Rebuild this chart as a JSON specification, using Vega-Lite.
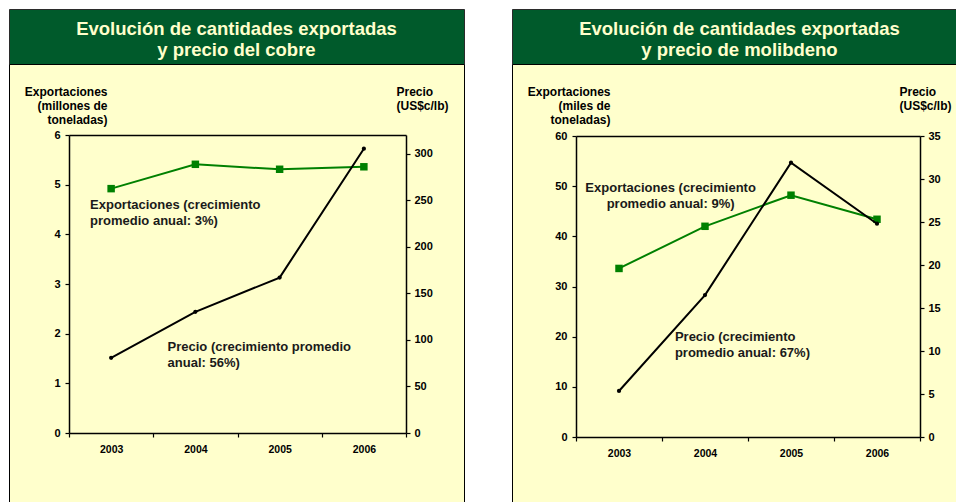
{
  "$schema": "https://vega.github.io/schema/vega-lite/v6.json",
  "background": "white",
  "padding": {"left": 8, "top": 8, "right": 0, "bottom": 0},
  "bounds": "flush",
  "columns": 2,
  "spacing": {"row": 0, "column": 48},
  "datasets": {
    "copper": [
      {"year": "2003", "exports": 4.92, "price": 80.7},
      {"year": "2004", "exports": 5.41, "price": 130.1},
      {"year": "2005", "exports": 5.31, "price": 166.9},
      {"year": "2006", "exports": 5.36, "price": 305.3}
    ],
    "moly": [
      {"year": "2003", "exports": 33.6, "price": 5.35},
      {"year": "2004", "exports": 42.0, "price": 16.5},
      {"year": "2005", "exports": 48.2, "price": 31.9},
      {"year": "2006", "exports": 43.4, "price": 24.8}
    ],
    "copper_exp_note": [{"year": "2003", "exports": 4.6, "label": "Exportaciones (crecimiento\npromedio anual: 3%)"}],
    "copper_price_note": [{"year": "2004", "price": 92.7, "label": "Precio (crecimiento promedio\nanual: 56%)"}],
    "moly_exp_note": [{"year": "2004", "exports": 49.7, "label": "Exportaciones (crecimiento\npromedio anual: 9%)"}],
    "moly_price_note": [{"year": "2004", "price": 11.6, "label": "Precio (crecimiento\npromedio anual: 67%)"}],
    "copper_title": [{"t": "Evolución de cantidades exportadas\ny precio del cobre"}],
    "moly_title": [{"t": "Evolución de cantidades exportadas\ny precio de molibdeno"}]
  },
  "config": {
    "font": "Liberation Sans",
    "axis": {
      "labelFont": "Liberation Sans",
      "labelFontWeight": "bold",
      "labelFontSize": 11,
      "labelColor": "black",
      "domainColor": "black",
      "domainWidth": 1.5,
      "tickColor": "black",
      "tickWidth": 1.2,
      "tickSize": 4,
      "grid": false,
      "zindex": 1,
      "titleFont": "Liberation Sans",
      "titleFontWeight": "bold",
      "titleFontSize": 12,
      "titleColor": "black",
      "titleAngle": 0,
      "titleLineHeight": 14,
      "titleBaseline": "middle"
    }
  },
  "concat": [
    {
      "width": 455,
      "height": 55,
      "view": {"fill": "#005A2B", "stroke": "#2b2b2b", "strokeWidth": 1},
      "data": {"name": "copper_title"},
      "mark": {"type": "text", "lineBreak": "\n", "lineHeight": 21, "fontSize": 18.5, "fontWeight": "bold", "font": "Liberation Sans", "color": "#FFFFCC", "align": "center", "baseline": "middle", "dy": -8},
      "encoding": {"text": {"field": "t"}}
    },
    {
      "width": 455,
      "height": 55,
      "view": {"fill": "#005A2B", "stroke": "#2b2b2b", "strokeWidth": 1},
      "data": {"name": "moly_title"},
      "mark": {"type": "text", "lineBreak": "\n", "lineHeight": 21, "fontSize": 18.5, "fontWeight": "bold", "font": "Liberation Sans", "color": "#FFFFCC", "align": "center", "baseline": "middle", "dy": -8},
      "encoding": {"text": {"field": "t"}}
    },
    {
      "width": 455,
      "height": 440,
      "view": {"fill": "#FFFFCC", "stroke": "black", "strokeWidth": 1},
      "resolve": {"scale": {"y": "independent"}, "axis": {"x": "independent"}},
      "layer": [
        {
          "layer": [
            {
              "data": {"name": "copper"},
              "mark": {"type": "line", "color": "#008000", "strokeWidth": 2, "point": {"shape": "square", "size": 56, "filled": true, "color": "#008000", "opacity": 1}},
              "encoding": {
                "x": {"field": "year", "type": "ordinal", "scale": {"type": "band", "range": [60, 397], "paddingInner": 0, "paddingOuter": 0},
                  "axis": {"orient": "bottom", "offset": -71, "title": null, "tickBand": "extent", "labelAngle": 0, "labelPadding": 7, "labelFontSize": 10.5}},
                "y": {"field": "exports", "type": "quantitative", "scale": {"domain": [0, 6], "range": [369, 71], "nice": false},
                  "axis": {"orient": "left", "offset": -60, "values": [0, 1, 2, 3, 4, 5, 6], "format": "d", "labelPadding": 5,
                    "title": ["Exportaciones", "(millones de", "toneladas)"], "titleAlign": "right", "titleX": 38, "titleY": 27}}
              }
            },
            {
              "data": {"name": "copper_exp_note"},
              "mark": {"type": "text", "lineBreak": "\n", "lineHeight": 16, "fontSize": 13, "fontWeight": "bold", "font": "Liberation Sans", "color": "#1a1a1a", "align": "left", "baseline": "middle"},
              "encoding": {
                "x": {"field": "year", "type": "ordinal", "bandPosition": 0.25},
                "y": {"field": "exports", "type": "quantitative"},
                "text": {"field": "label"}
              }
            }
          ]
        },
        {
          "layer": [
            {
              "data": {"name": "copper"},
              "mark": {"type": "line", "color": "black", "strokeWidth": 2, "point": {"shape": "circle", "size": 18, "filled": true, "color": "black", "opacity": 1}},
              "encoding": {
                "x": {"field": "year", "type": "ordinal", "scale": {"type": "band", "range": [60, 397], "paddingInner": 0, "paddingOuter": 0},
                  "axis": {"orient": "top", "offset": -71, "title": null, "labels": false, "ticks": false, "domain": true}},
                "y": {"field": "price", "type": "quantitative", "scale": {"domain": [0, 320], "range": [369, 71], "nice": false},
                  "axis": {"orient": "right", "offset": -58, "values": [0, 50, 100, 150, 200, 250, 300], "labelPadding": 4,
                    "title": ["Precio", "(US$c/lb)"], "titleAlign": "left", "titleX": -10, "titleY": 27}}
              }
            },
            {
              "data": {"name": "copper_price_note"},
              "mark": {"type": "text", "lineBreak": "\n", "lineHeight": 16, "fontSize": 13, "fontWeight": "bold", "font": "Liberation Sans", "color": "#1a1a1a", "align": "left", "baseline": "middle"},
              "encoding": {
                "x": {"field": "year", "type": "ordinal", "bandPosition": 0.17},
                "y": {"field": "price", "type": "quantitative"},
                "text": {"field": "label"}
              }
            }
          ]
        }
      ]
    },
    {
      "width": 455,
      "height": 440,
      "view": {"fill": "#FFFFCC", "stroke": "black", "strokeWidth": 1},
      "resolve": {"scale": {"y": "independent"}, "axis": {"x": "independent"}},
      "layer": [
        {
          "layer": [
            {
              "data": {"name": "moly"},
              "mark": {"type": "line", "color": "#008000", "strokeWidth": 2, "point": {"shape": "square", "size": 56, "filled": true, "color": "#008000", "opacity": 1}},
              "encoding": {
                "x": {"field": "year", "type": "ordinal", "scale": {"type": "band", "range": [64, 408], "paddingInner": 0, "paddingOuter": 0},
                  "axis": {"orient": "bottom", "offset": -67, "title": null, "tickBand": "extent", "labelAngle": 0, "labelPadding": 7, "labelFontSize": 10.5}},
                "y": {"field": "exports", "type": "quantitative", "scale": {"domain": [0, 60], "range": [373, 72], "nice": false},
                  "axis": {"orient": "left", "offset": -64, "values": [0, 10, 20, 30, 40, 50, 60], "format": "d", "labelPadding": 5,
                    "title": ["Exportaciones", "(miles de", "toneladas)"], "titleAlign": "right", "titleX": 34, "titleY": 27}}
              }
            },
            {
              "data": {"name": "moly_exp_note"},
              "mark": {"type": "text", "lineBreak": "\n", "lineHeight": 16, "fontSize": 13, "fontWeight": "bold", "font": "Liberation Sans", "color": "#1a1a1a", "align": "center", "baseline": "middle"},
              "encoding": {
                "x": {"field": "year", "type": "ordinal", "bandPosition": 0.1},
                "y": {"field": "exports", "type": "quantitative"},
                "text": {"field": "label"}
              }
            }
          ]
        },
        {
          "layer": [
            {
              "data": {"name": "moly"},
              "mark": {"type": "line", "color": "black", "strokeWidth": 2, "point": {"shape": "circle", "size": 18, "filled": true, "color": "black", "opacity": 1}},
              "encoding": {
                "x": {"field": "year", "type": "ordinal", "scale": {"type": "band", "range": [64, 408], "paddingInner": 0, "paddingOuter": 0},
                  "axis": {"orient": "top", "offset": -72, "title": null, "labels": false, "ticks": false, "domain": true}},
                "y": {"field": "price", "type": "quantitative", "scale": {"domain": [0, 35], "range": [373, 72], "nice": false},
                  "axis": {"orient": "right", "offset": -47, "values": [0, 5, 10, 15, 20, 25, 30, 35], "format": "d", "labelPadding": 4,
                    "title": ["Precio", "(US$c/lb)"], "titleAlign": "left", "titleX": -21, "titleY": 27}}
              }
            },
            {
              "data": {"name": "moly_price_note"},
              "mark": {"type": "text", "lineBreak": "\n", "lineHeight": 16, "fontSize": 13, "fontWeight": "bold", "font": "Liberation Sans", "color": "#1a1a1a", "align": "left", "baseline": "middle"},
              "encoding": {
                "x": {"field": "year", "type": "ordinal", "bandPosition": 0.15},
                "y": {"field": "price", "type": "quantitative"},
                "text": {"field": "label"}
              }
            }
          ]
        }
      ]
    }
  ]
}
